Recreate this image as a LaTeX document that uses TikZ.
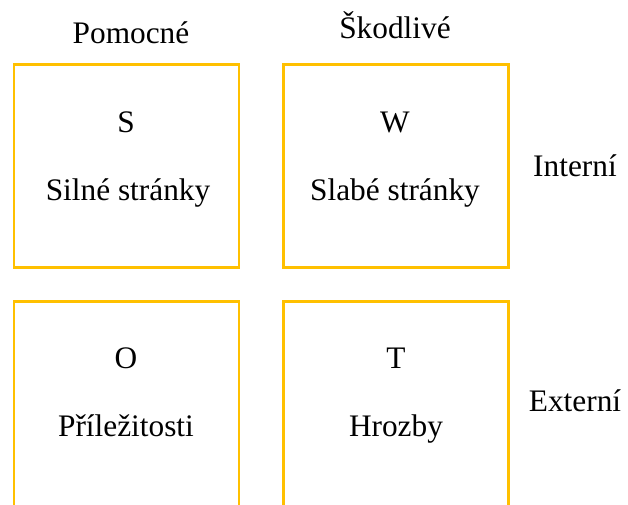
\documentclass[tikz,border=0pt]{standalone}
\usepackage{fontspec}
\setmainfont{Liberation Serif}
\definecolor{swotyellow}{HTML}{FFC000}
\begin{document}
\begin{tikzpicture}[x=0.75pt,y=-0.75pt,
  boxline/.style={draw=swotyellow,line width=1.9pt},
  lbl/.style={inner sep=0pt,anchor=base,font=\fontsize{23.5}{28}\selectfont,text=black}]
\useasboundingbox (0,0) rectangle (628,504);
\clip (0,0) rectangle (628,504);
% boxes
\draw[boxline] (14,64.3) rectangle (239,267.7);
\draw[boxline] (283.3,64.3) rectangle (508.3,267.7);
\draw[boxline] (14,301.3) rectangle (239,530);
\draw[boxline] (283.3,301.3) rectangle (508.3,530);
% white label background over top-left edge
\fill[white] (54,60) rectangle (222,63.4);
% headers
\node[lbl] (pom) at (131,43) {Pomocné};
\node[lbl] (sko) at (395,38) {Škodlivé};
% row labels
\node[lbl] (int) at (575,176) {Interní};
\node[lbl] (ext) at (575,411) {Externí};
% quadrant texts
\node[lbl] (s) at (126,132) {S};
\node[lbl] (st) at (128,200) {Silné stránky};
\node[lbl] (w) at (395,132) {W};
\node[lbl] (wt) at (395,200) {Slabé stránky};
\node[lbl] (o) at (126,368) {O};
\node[lbl] (ot) at (126,436) {Příležitosti};
\node[lbl] (t) at (396,368) {T};
\node[lbl] (tt) at (396,436) {Hrozby};
\end{tikzpicture}
\end{document}
